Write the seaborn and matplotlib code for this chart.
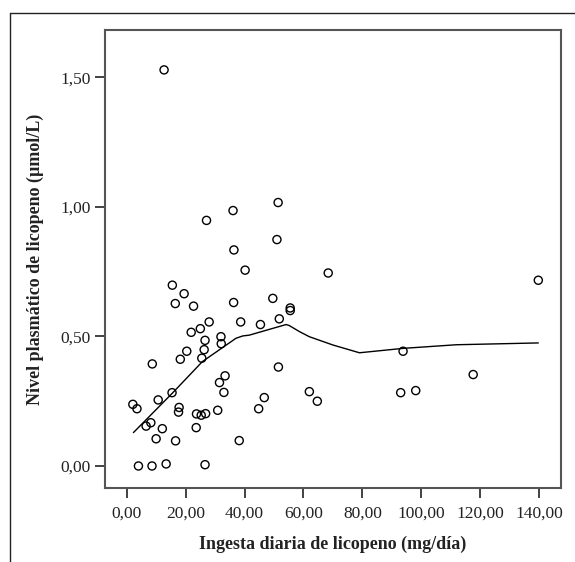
import numpy as np
import pandas as pd
import matplotlib
matplotlib.use("Agg")
import matplotlib.pyplot as plt
import seaborn as sns
from matplotlib.lines import Line2D

# --- data ---
intake = [12.7, 27.1, 36.1, 51.4, 51.0, 36.4, 40.2, 15.5, 19.5, 16.5, 22.7, 36.3,
          49.6, 55.5, 55.5, 28.0, 38.7, 45.4, 51.8, 21.9, 25.0, 26.6, 32.0, 32.1,
          26.3, 20.4, 18.2, 25.5, 8.7, 51.5, 33.4, 31.5, 33.0, 15.4, 46.7, 10.7,
          2.1, 3.5, 17.8, 17.6, 44.8, 30.9, 23.7, 25.3, 26.8, 8.2, 6.6, 12.1,
          23.6, 10.0, 16.6, 38.2, 4.0, 8.6, 13.4, 26.6,
          68.4, 139.7, 93.8, 117.6, 62.0, 64.7, 93.0, 98.1]
plasma = [1.529, 0.948, 0.986, 1.017, 0.874, 0.834, 0.756, 0.698, 0.665, 0.627, 0.617, 0.631,
          0.647, 0.610, 0.600, 0.556, 0.556, 0.546, 0.568, 0.516, 0.530, 0.485, 0.499, 0.472,
          0.449, 0.443, 0.412, 0.416, 0.394, 0.382, 0.348, 0.322, 0.284, 0.283, 0.264, 0.255,
          0.238, 0.221, 0.226, 0.208, 0.221, 0.215, 0.201, 0.196, 0.202, 0.167, 0.154, 0.144,
          0.148, 0.105, 0.097, 0.098, 0.0, 0.0, 0.008, 0.005,
          0.745, 0.717, 0.443, 0.353, 0.287, 0.250, 0.283, 0.291]

fit_x = [2.3, 15.5, 25.7, 37.1, 39.4, 41.6, 54.1, 55.2, 58.6, 62.0, 70.0, 79.0, 93.8, 111.9, 139.7]
fit_y = [0.129, 0.281, 0.403, 0.493, 0.502, 0.505, 0.546, 0.542, 0.519, 0.499, 0.467, 0.437, 0.454, 0.468, 0.475]

x_ticks = [0, 20, 40, 60, 80, 100, 120, 140]
x_tick_labels = ["0,00", "20,00", "40,00", "60,00", "80,00", "100,00", "120,00", "140,00"]
y_ticks = [0.0, 0.5, 1.0, 1.5]
y_tick_labels = ["0,00", "0,50", "1,00", "1,50"]

x_label = "Ingesta diaria de licopeno (mg/día)"
y_label = "Nivel plasmático de licopeno (µmol/L)"

df = pd.DataFrame({"x": intake, "y": plasma})
fit = pd.DataFrame({"x": fit_x, "y": fit_y})

sns.set_style("white")
plt.rcParams["font.family"] = ["Liberation Serif", "DejaVu Serif"]

fig = plt.figure(figsize=(5.75, 5.62), dpi=100)
ax = fig.add_axes([105 / 575, 1 - 488 / 562, (561 - 105) / 575, (488 - 30) / 562])

sns.scatterplot(data=df, x="x", y="y", ax=ax, s=34, facecolor="none",
                edgecolor="black", linewidth=1.0, marker="o", zorder=3)
sns.lineplot(data=fit, x="x", y="y", ax=ax, sort=False, color="black",
             linewidth=1.0, zorder=2)

ax.set_xlim(-7.35, 147.4)
ax.set_ylim(-0.085, 1.683)
ax.set_xticks(x_ticks)
ax.set_xticklabels(x_tick_labels)
ax.set_yticks(y_ticks)
ax.set_yticklabels(y_tick_labels)
ax.tick_params(axis="both", which="major", direction="out", length=7, width=1.2,
               color="#222222", labelsize=12.5, labelcolor="#222222",
               bottom=True, left=True)
ax.tick_params(axis="x", pad=6)
ax.tick_params(axis="y", pad=3)
for sp in ax.spines.values():
    sp.set_color("#555555")
    sp.set_linewidth(1.5)

ax.set_xlabel(x_label, fontsize=13, fontweight="bold", color="#222222", labelpad=10)
ax.set_ylabel(y_label, fontsize=13, fontweight="bold", color="#222222", labelpad=12)

# cropped figure border (top and left lines)
fig.add_artist(Line2D([10 / 575, 10 / 575], [0, 1 - 13 / 562], transform=fig.transFigure,
                      color="#222222", linewidth=1.0))
fig.add_artist(Line2D([10 / 575, 1], [1 - 13 / 562, 1 - 13 / 562], transform=fig.transFigure,
                      color="#222222", linewidth=1.0))

fig.savefig("out.png", dpi=100)
